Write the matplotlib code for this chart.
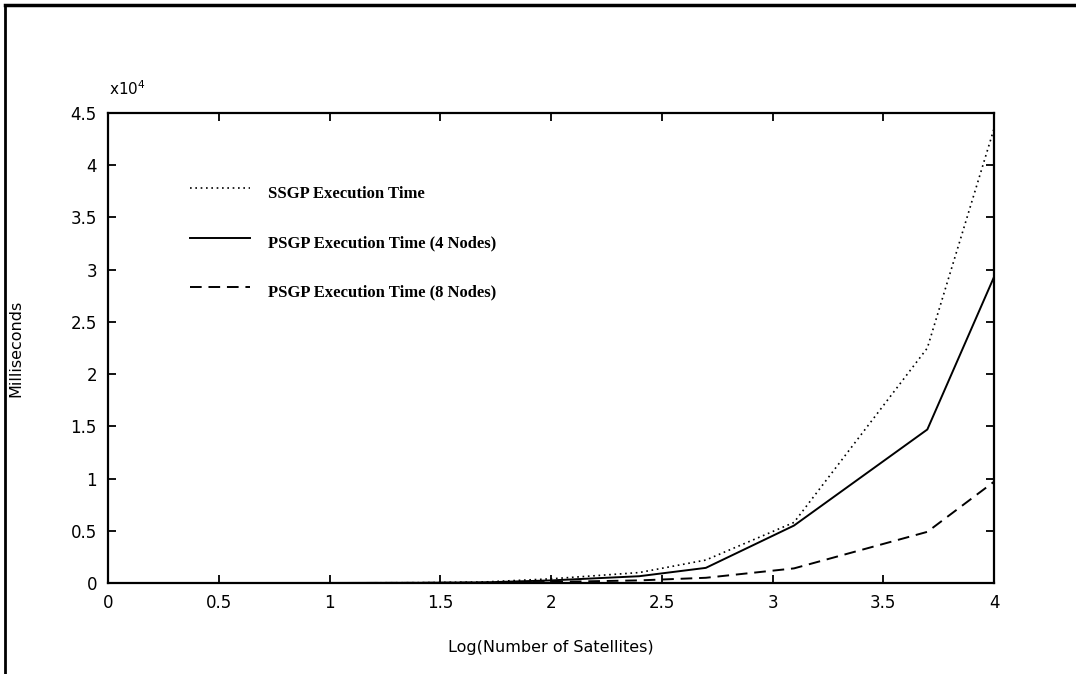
import numpy as np
import matplotlib
matplotlib.use("Agg")
import matplotlib.pyplot as plt
from matplotlib.lines import Line2D

# number of satellites simulated and measured run times (ms)
satellites = [1, 10, 25, 50, 100, 250, 500, 1250, 5000, 10000]
ssgp_ms = [0, 5, 30, 100, 400, 1000, 2200, 5800, 22500, 43500]
psgp4_ms = [0, 5, 20, 60, 250, 650, 1450, 5500, 14700, 29300]
psgp8_ms = [0, 2, 10, 30, 100, 250, 500, 1400, 4900, 9700]

labels = ["SSGP Execution Time",
          "PSGP Execution Time (4 Nodes)",
          "PSGP Execution Time (8 Nodes)"]

x_ticks = [0, 0.5, 1, 1.5, 2, 2.5, 3, 3.5, 4]
y_ticks = [0, 5000, 10000, 15000, 20000, 25000, 30000, 35000, 40000, 45000]
y_ticklabels = ["0", "0.5", "1", "1.5", "2", "2.5", "3", "3.5", "4", "4.5"]

logx = np.log10(satellites)

fig = plt.figure(figsize=(10.76, 6.74), dpi=100)
ax = fig.add_axes([0.1004, 0.135, 0.8234, 0.6973])

styles = [dict(lw=1.2, linestyle=(0, (1, 2.2))),
          dict(lw=1.4, linestyle="-"),
          dict(lw=1.4, linestyle=(0, (6, 3.5)))]

for ys_ms, st in zip([ssgp_ms, psgp4_ms, psgp8_ms], styles):
    ax.plot(logx, ys_ms, color="black", **st)

ax.set_xlim(0, 4)
ax.set_ylim(0, 45000)
ax.set_xticks(x_ticks)
ax.set_xticklabels(["0", "0.5", "1", "1.5", "2", "2.5", "3", "3.5", "4"])
ax.set_yticks(y_ticks)
ax.set_yticklabels(y_ticklabels)
ax.tick_params(direction="in", length=6, width=1.3, top=True, right=True,
               labelsize=12, pad=8)
for s in ax.spines.values():
    s.set_linewidth(1.6)

fig.text(0.101, 0.855, r"x10$^4$", fontsize=11, ha="left", va="bottom")
ax.set_xlabel("Log(Number of Satellites)", fontsize=11.5, labelpad=20)
ax.set_ylabel("Milliseconds", fontsize=11.5)
ax.yaxis.set_label_coords(-0.096, 0.5)

# legend drawn by hand: line samples on the left, serif text to the right
ys = [0.84, 0.735, 0.63]
for st, lab, yy in zip(styles, labels, ys):
    ax.add_line(Line2D([0.093, 0.16], [yy, yy], transform=ax.transAxes,
                       color="black", **st))
    ax.text(0.181, yy - 0.012, lab, transform=ax.transAxes,
            family="Liberation Serif", fontsize=12, fontweight="bold",
            va="center", ha="left")

# page frame lines at left and top
fig.add_artist(Line2D([0.005, 0.005], [0, 0.993], transform=fig.transFigure,
                      color="black", lw=2))
fig.add_artist(Line2D([0.005, 1], [0.993, 0.993], transform=fig.transFigure,
                      color="black", lw=2.5))

fig.savefig("out.png", dpi=100)
